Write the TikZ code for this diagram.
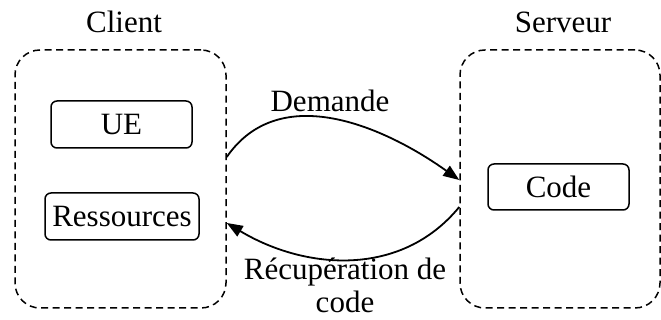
\documentclass[tikz,border=0pt]{standalone}
\usepackage{fontspec}
\setmainfont{Liberation Serif}
\usetikzlibrary{arrows.meta}
\begin{document}
\begin{tikzpicture}[x=1pt,y=1pt,
  every node/.style={font=\fontsize{31}{31}\selectfont, inner sep=0pt},
  zone/.style={draw, dashed, dash pattern=on 7pt off 4.5pt, line width=1.5pt,
    rounded corners=25pt, minimum height=258pt},
  item/.style={draw, line width=1.5pt, rounded corners=6pt, minimum height=47pt},
  flow/.style={line width=1.8pt, -{Triangle[length=16pt,width=12pt]}},
  lbl/.style={align=center}
]
\useasboundingbox (0,0) rectangle (661,320);

% Client side
\node[zone, minimum width=211pt] (client) at (120.5,141) {};
\node (clientlbl) at (124,298) {Client};
\node[item, minimum width=141pt] (ue) at (121.5,195.5) {UE};
\node[item, minimum width=154pt] (res) at (122,103.5) {Ressources};

% Server side
\node[zone, minimum width=200pt] (server) at (560,141) {};
\node (serverlbl) at (563,298) {Serveur};
\node[item, minimum width=141pt, minimum height=46pt] (code) at (558.5,133) {Code};

% Anchor points on the zone borders
\coordinate (dA) at ([yshift=22pt]client.east);
\coordinate (dB) at ([yshift=-1pt]server.west);
\coordinate (rA) at ([yshift=-28pt]server.west);
\coordinate (rB) at ([yshift=-44pt]client.east);

% Request and reply
\draw[flow] (dA) .. controls (280,240) and (385,193) .. (dB);
\node (dem) at (330,219) {Demande};
\draw[flow] (rA) .. controls (401,42) and (305,50) .. (rB);
\node[lbl] (rec) at (345,48) {Récupération de};
\node[lbl] (rec2) at (345,18) {code};
\end{tikzpicture}
\end{document}
